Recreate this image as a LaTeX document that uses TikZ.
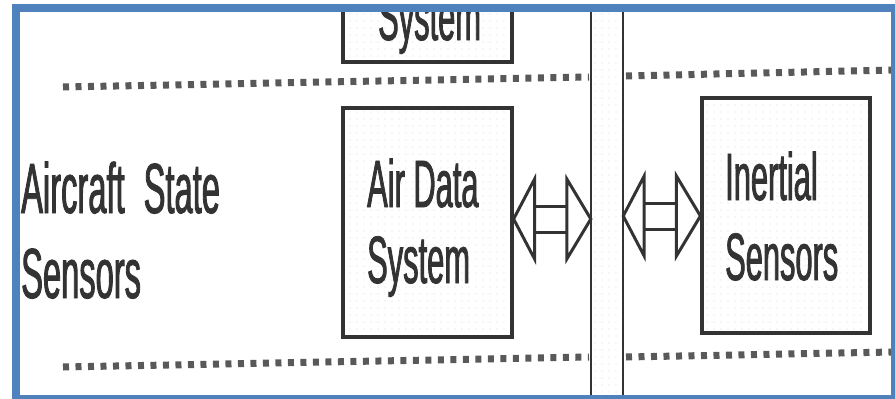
\documentclass[tikz,border=0pt]{standalone}
\usepackage{fontspec}
\newfontfamily\scanfont[FakeStretch=0.46,FakeBold=1.2]{Liberation Sans}
\usetikzlibrary{patterns.meta,calc}
\definecolor{frameblue}{HTML}{4F81BD}
\definecolor{ink}{gray}{0.2}

% open double-headed block arrow between two points at the same height
\newcommand{\dualarrow}[2]{%
  \draw[blockarrow] (#1) -- ($(#1)+(21,-40)$) -- ($(#1)+(21,40)$) -- cycle;
  \draw[blockarrow] (#2) -- ($(#2)+(-24,-40)$) -- ($(#2)+(-24,40)$) -- cycle;
  \draw[blockarrow] ($(#1)+(21,-13)$) -- ($(#2)+(-24,-13)$);
  \draw[blockarrow] ($(#1)+(21,13)$) -- ($(#2)+(-24,13)$);}

\begin{document}
\begin{tikzpicture}[x=1pt,y=-1pt,
  stipple/.style={pattern={Dots[distance=7pt,radius=0.7pt]},pattern color=black!15},
  unit/.style={draw=ink,line width=3.2pt,stipple,minimum width=169pt,inner sep=0pt},
  tag/.style={inner sep=0pt,anchor=base west,text=ink,font=\scanfont\fontsize{67}{77}\selectfont},
  sidetag/.style={tag,font=\scanfont\fontsize{71}{85}\selectfont},
  divider/.style={draw=black!65,line width=7pt,dash pattern=on 6pt off 6.5pt},
  busline/.style={draw=ink,line width=2.5pt},
  blockarrow/.style={draw=ink,line width=3pt,line join=miter}]
\useasboundingbox (0,0) rectangle (895,399);

\begin{scope}
  \clip (20,12) rectangle (891,395);

  % data bus
  \node[stipple,minimum width=32pt,minimum height=420pt,inner sep=0pt] (bus) at (607,200) {};
  \draw[busline] (bus.north west) -- (bus.south west);
  \draw[busline] (bus.north east) -- (bus.south east);

  % row separators
  \draw[divider] (63,87) -- (589,77);
  \draw[divider] (626,76) -- (893,70);
  \draw[divider] (63,367) -- (589,357);
  \draw[divider] (626,357) -- (893,352);

  % units
  \node[unit,minimum height=108pt] (top) at (427.5,8) {};
  \node[unit,minimum height=229pt] (ad) at (427.5,222.5) {};
  \node[unit,minimum height=235pt,minimum width=168pt] (ins) at (786,215.5) {};

  % labels
  \node[tag] (topt) at (378,40) {System};
  \node[tag] (adt1) at (367,207) {Air Data};
  \node[tag] (adt2) at (367,283) {System};
  \node[tag] (inst1) at (725,200) {Inertial};
  \node[tag] (inst2) at (725,280) {Sensors};
  \node[sidetag] (side1) at (21,213) {Aircraft\hspace{10pt} State};
  \node[sidetag] (side2) at (21,298) {Sensors};

  % bus connections
  \coordinate (lvl1) at (0,219);
  \coordinate (lvl2) at (0,216);
  \coordinate (p1) at (ad.east |- lvl1);
  \coordinate (q1) at (bus.west |- lvl1);
  \coordinate (p2) at (bus.east |- lvl2);
  \coordinate (q2) at (ins.west |- lvl2);
  \dualarrow{p1}{q1}
  \dualarrow{p2}{q2}
\end{scope}

% outer frame
\draw[frameblue,line width=8pt] (16,8) rectangle (895,399);
\end{tikzpicture}
\end{document}
